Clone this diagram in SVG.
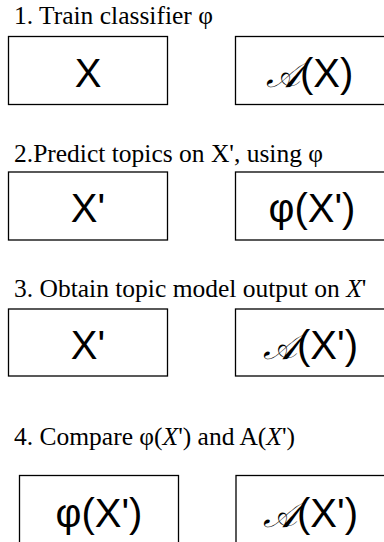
<svg xmlns="http://www.w3.org/2000/svg" width="384" height="542" viewBox="0 0 384 542">
<style>
.lbl{font-family:"Liberation Serif","Times New Roman",serif;font-size:25.5px;fill:#000}
.box{fill:#fff;stroke:#000;stroke-width:1.3}
.big{font-family:"Liberation Sans",Arial,sans-serif;font-size:40px;fill:#000;text-anchor:middle}
.bigs{font-family:"Liberation Sans",Arial,sans-serif;font-size:40px;fill:#000}
.cal{font-family:"DejaVu Serif","Noto Sans",serif;font-size:36px;font-style:italic}
</style>
<rect width="384" height="542" fill="#fff"/>
<g id="step1">
<text class="lbl" x="14" y="24">1. Train classifier φ</text>
<g id="n1a"><rect class="box" x="8.5" y="36.5" width="159" height="68"/><text class="big" x="88" y="87">X</text></g>
<g id="n1b"><rect class="box" x="235.5" y="36.5" width="160" height="68"/><text class="bigs" x="266" y="87"><tspan class="cal">𝒜</tspan>(X)</text></g>
</g>
<g id="step2">
<text class="lbl" x="14" y="162">2.Predict topics on X', using φ</text>
<g id="n2a"><rect class="box" x="8.5" y="172" width="159" height="68"/><text class="big" x="88" y="222">X'</text></g>
<g id="n2b"><rect class="box" x="235.5" y="172" width="160" height="68"/><text class="big" x="312" y="222">φ(X')</text></g>
</g>
<g id="step3">
<text class="lbl" x="14" y="297" font-size="24.8">3. Obtain topic model output on <tspan font-style="italic">X</tspan>'</text>
<g id="n3a"><rect class="box" x="8.5" y="309" width="159" height="67"/><text class="big" x="88" y="359">X'</text></g>
<g id="n3b"><rect class="box" x="235.5" y="309" width="160" height="67"/><text class="bigs" x="263" y="359"><tspan class="cal">𝒜</tspan>(X')</text></g>
</g>
<g id="step4">
<text class="lbl" x="14" y="445" font-size="26">4. Compare φ(<tspan font-style="italic">X</tspan>') and A(<tspan font-style="italic">X</tspan>')</text>
<g id="n4a"><rect class="box" x="19.5" y="475.5" width="159" height="80"/><text class="big" x="99" y="527">φ(X')</text></g>
<g id="n4b"><rect class="box" x="236" y="475.5" width="160" height="80"/><text class="bigs" x="263" y="527"><tspan class="cal">𝒜</tspan>(X')</text></g>
</g>
<g id="connectors"/>
</svg>
